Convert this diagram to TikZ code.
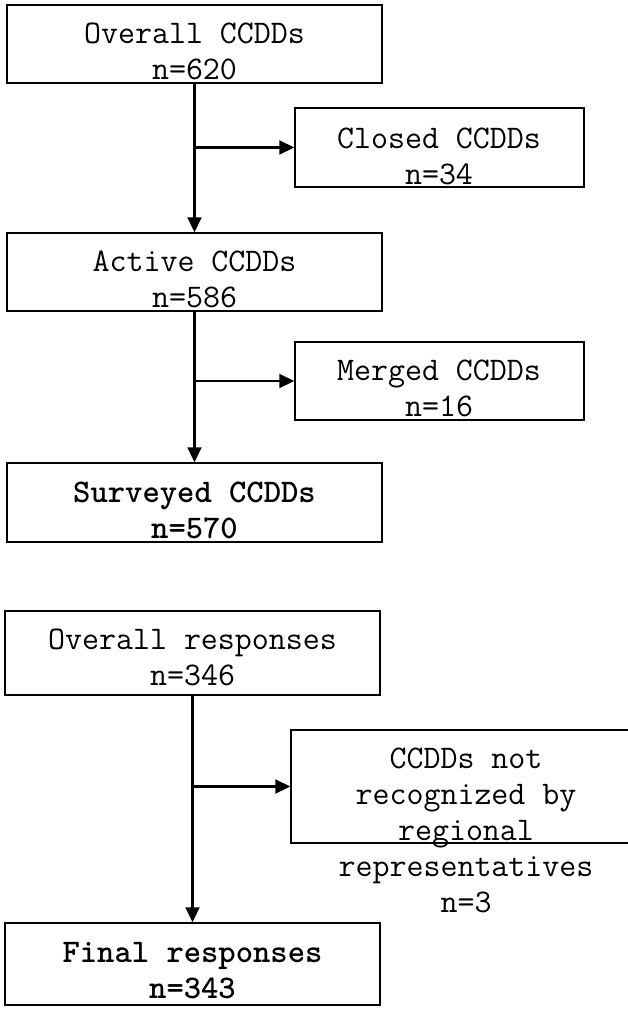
\documentclass[tikz,border=0pt]{standalone}
\usepackage{fontspec}
\usetikzlibrary{arrows.meta}
\begin{document}
\begin{tikzpicture}[x=1pt,y=-1pt,
  box/.style={draw=black, line width=1.5pt, rectangle, inner sep=0pt},
  txt/.style={align=center, inner sep=0pt, font=\ttfamily\fontsize{33}{36}\selectfont},
  btxt/.style={align=center, inner sep=0pt, font=\ttfamily\bfseries\fontsize{33}{36}\selectfont},
  arr/.style={line width=2.2pt, -{Triangle[length=15pt,width=14pt]}}]
\useasboundingbox (0,0) rectangle (628,1009);

% boxes
\node[box, minimum width=375pt, minimum height=78pt] (overall) at (194.5,44) {};
\node[box, minimum width=289pt, minimum height=79pt] (closed) at (439.5,147.5) {};
\node[box, minimum width=375pt, minimum height=78pt] (active) at (194.5,272) {};
\node[box, minimum width=289pt, minimum height=78pt] (merged) at (439.5,381) {};
\node[box, minimum width=375pt, minimum height=79pt] (surveyed) at (194.5,502.5) {};
\node[box, minimum width=375pt, minimum height=84pt] (resp) at (192.5,653) {};
\node[box, minimum width=356pt, minimum height=113pt] (notrec) at (469,786.5) {};
\node[box, minimum width=375pt, minimum height=82pt] (final) at (192.5,964) {};

% texts
\node[txt] (toverall) at (194.5,51) {Overall CCDDs\\n=620};
\node[txt] (tclosed) at (439,156) {Closed CCDDs\\n=34};
\node[txt] (tactive) at (194.5,279.5) {Active CCDDs\\n=586};
\node[txt] (tmerged) at (439,388.5) {Merged CCDDs\\n=16};
\node[btxt] (tsurveyed) at (194.5,510) {Surveyed CCDDs\\n=570};
\node[txt] (tresp) at (192.5,657) {Overall responses\\n=346};
\node[txt] (tnotrec) at (466,830) {CCDDs not\\recognized by\\regional\\representatives\\n=3};
\node[btxt] (tfinal) at (192.5,970.5) {Final responses\\n=343};

% connectors
\draw[arr] (overall.south) -- (active.north);
\draw[arr] (overall.south |- closed.west) -- (closed.west);
\draw[arr] (active.south) -- (surveyed.north);
\draw[arr] (active.south |- merged.west) -- (merged.west);
\draw[arr] (resp.south) -- (final.north);
\draw[arr] (resp.south |- notrec.west) -- (notrec.west);
\end{tikzpicture}
\end{document}
